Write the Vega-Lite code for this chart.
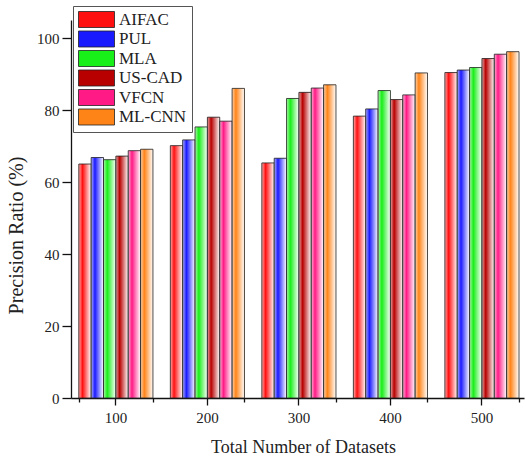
{
  "$schema": "https://vega.github.io/schema/vega-lite/v6.json",
  "width": 453,
  "height": 378,
  "autosize": {"type": "none"},
  "padding": {"left": 71, "top": 20, "right": 2, "bottom": 62},
  "background": "white",
  "config": {
    "view": {"stroke": null},
    "font": "Liberation Serif",
    "axis": {"domainColor": "#111", "tickColor": "#111", "domainWidth": 1.3, "tickWidth": 1.3, "labelColor": "#222", "titleColor": "#222", "grid": false, "labelFont": "Liberation Serif", "titleFont": "Liberation Serif", "titleFontWeight": "normal"}
  },
  "data": {
    "values": [
      {"n": "100", "model": "AIFAC", "v": 65.0},
      {"n": "100", "model": "PUL", "v": 66.8},
      {"n": "100", "model": "MLA", "v": 66.2},
      {"n": "100", "model": "US-CAD", "v": 67.2},
      {"n": "100", "model": "VFCN", "v": 68.7},
      {"n": "100", "model": "ML-CNN", "v": 69.1},
      {"n": "200", "model": "AIFAC", "v": 70.1},
      {"n": "200", "model": "PUL", "v": 71.7},
      {"n": "200", "model": "MLA", "v": 75.3},
      {"n": "200", "model": "US-CAD", "v": 78.0},
      {"n": "200", "model": "VFCN", "v": 76.9},
      {"n": "200", "model": "ML-CNN", "v": 86.0},
      {"n": "300", "model": "AIFAC", "v": 65.3},
      {"n": "300", "model": "PUL", "v": 66.6},
      {"n": "300", "model": "MLA", "v": 83.2},
      {"n": "300", "model": "US-CAD", "v": 84.9},
      {"n": "300", "model": "VFCN", "v": 86.1},
      {"n": "300", "model": "ML-CNN", "v": 87.0},
      {"n": "400", "model": "AIFAC", "v": 78.3},
      {"n": "400", "model": "PUL", "v": 80.3},
      {"n": "400", "model": "MLA", "v": 85.4},
      {"n": "400", "model": "US-CAD", "v": 82.9},
      {"n": "400", "model": "VFCN", "v": 84.2},
      {"n": "400", "model": "ML-CNN", "v": 90.3},
      {"n": "500", "model": "AIFAC", "v": 90.4},
      {"n": "500", "model": "PUL", "v": 91.1},
      {"n": "500", "model": "MLA", "v": 91.8},
      {"n": "500", "model": "US-CAD", "v": 94.3},
      {"n": "500", "model": "VFCN", "v": 95.5},
      {"n": "500", "model": "ML-CNN", "v": 96.2}
    ]
  },
  "layer": [
    {
      "mark": {"type": "bar", "strokeWidth": 0},
      "encoding": {
        "x": {
          "field": "n", "type": "nominal", "sort": ["100", "200", "300", "400", "500"],
          "scale": {"paddingInner": 0.19, "paddingOuter": 0.07, "align": 0.61},
          "axis": {"orient": "bottom", "title": "Total Number of Datasets", "labelAngle": 0, "labelFontSize": 15, "titleFontSize": 18, "tickSize": 7, "labelPadding": 5, "titlePadding": 13, "titleX": 232}
        },
        "xOffset": {"field": "model", "type": "nominal", "sort": ["AIFAC", "PUL", "MLA", "US-CAD", "VFCN", "ML-CNN"], "scale": {"paddingInner": 0, "paddingOuter": 0}},
        "y": {
          "field": "v", "type": "quantitative",
          "scale": {"domain": [0, 105], "nice": false},
          "axis": {
            "title": "Precision Ratio (%)", "values": [0, 10, 20, 30, 40, 50, 60, 70, 80, 90, 100],
            "labelExpr": "datum.value % 20 === 0 ? datum.label : ''",
            "tickSize": {"condition": {"test": "datum.value % 20 === 0", "value": 9}, "value": 4},
            "labelFontSize": 15, "labelPadding": 3, "titleFontSize": 20,
            "titleX": -55, "titleY": 215, "titleBaseline": "middle"
          }
        },
        "color": {
          "field": "model", "type": "nominal", "sort": ["AIFAC", "PUL", "MLA", "US-CAD", "VFCN", "ML-CNN"],
          "scale": {
            "domain": ["AIFAC", "PUL", "MLA", "US-CAD", "VFCN", "ML-CNN"],
            "range": ["#ff1010", "#1a1aff", "#18ee18", "#b80000", "#ff1a85", "#ff8418"]
          },
          "legend": {
            "title": null, "orient": "none", "legendX": 2, "legendY": -14,
            "padding": 5, "strokeColor": "#555", "fillColor": "white",
            "symbolType": "M-2.25,-1H2.25V1H-2.25Z", "symbolSize": 256, "symbolOffset": 10,
            "symbolStrokeColor": "#222", "symbolStrokeWidth": 0.8,
            "labelFontSize": 17, "labelFont": "Liberation Serif", "labelColor": "#222",
            "labelOffset": 14, "rowPadding": -1.5
          }
        }
      }
    },
    {
      "mark": {
        "type": "bar", "stroke": "#222", "strokeWidth": 0.8,
        "color": {"gradient": "linear", "x1": 0, "y1": 0, "x2": 1, "y2": 0, "stops": [
          {"offset": 0, "color": "rgba(255,255,255,0.65)"},
          {"offset": 0.3, "color": "rgba(255,255,255,0)"},
          {"offset": 1, "color": "rgba(255,255,255,1)"}
        ]}
      },
      "encoding": {
        "x": {"field": "n", "type": "nominal", "sort": ["100", "200", "300", "400", "500"], "axis": null},
        "xOffset": {"field": "model", "type": "nominal", "sort": ["AIFAC", "PUL", "MLA", "US-CAD", "VFCN", "ML-CNN"]},
        "y": {"field": "v", "type": "quantitative"}
      }
    },
    {
      "mark": {"type": "point", "opacity": 0},
      "encoding": {
        "x": {
          "field": "n", "type": "nominal", "sort": ["100", "200", "300", "400", "500"],
          "axis": {"orient": "bottom", "title": null, "labels": false, "domain": false, "tickBand": "extent", "tickSize": 4}
        }
      }
    }
  ],
  "resolve": {"axis": {"x": "independent"}}
}
